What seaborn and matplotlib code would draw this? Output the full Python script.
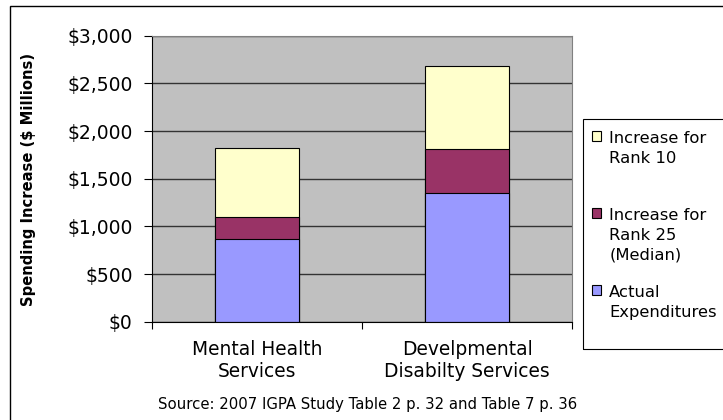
import matplotlib
matplotlib.use("Agg")
import matplotlib.pyplot as plt
from matplotlib.patches import Patch, Rectangle
from matplotlib.ticker import FixedLocator, FuncFormatter
import seaborn as sns
import pandas as pd

# values ($ millions)
categories = ["Mental Health\nServices", "Develpmental\nDisabilty Services"]
actual_expenditures = [865, 1345]
increase_rank25 = [235, 465]
increase_rank10 = [725, 870]

y_ticks = [0, 500, 1000, 1500, 2000, 2500, 3000]
legend_labels = ["Increase for\nRank 10\n", "Increase for\nRank 25\n(Median)", "Actual\nExpenditures"]
source_note = "Source: 2007 IGPA Study Table 2 p. 32 and Table 7 p. 36"

colors = {"rank10": "#FFFFCC", "rank25": "#993366", "actual": "#9999FF"}

sns.set_style("white")
plt.rcParams["font.family"] = ["DejaVu Sans"]
plt.rcParams["text.color"] = "black"
plt.rcParams["axes.labelcolor"] = "black"
plt.rcParams["xtick.color"] = "black"
plt.rcParams["ytick.color"] = "black"

df = pd.DataFrame({
    "category": categories,
    "actual": actual_expenditures,
    "rank25": increase_rank25,
    "rank10": increase_rank10,
})
df["with_rank25"] = df["actual"] + df["rank25"]
df["with_rank10"] = df["with_rank25"] + df["rank10"]

W, H = 723, 420
fig = plt.figure(figsize=(W / 100, H / 100), dpi=100)
ax = fig.add_axes([152 / W, 1 - 321.7 / H, 420 / W, 286 / H])

# stacked bars drawn back to front from the cumulative totals
for col, key in [("with_rank10", "rank10"), ("with_rank25", "rank25"), ("actual", "actual")]:
    sns.barplot(data=df, x="category", y=col, color=colors[key], saturation=1,
                width=0.4, edgecolor="black", linewidth=0.8, ax=ax)

ax.set_facecolor("#C0C0C0")
ax.set_axisbelow(True)
ax.set_ylim(0, 3000)
ax.set_xlim(-0.5, 1.5)
ax.yaxis.set_major_locator(FixedLocator(y_ticks))
ax.yaxis.set_major_formatter(FuncFormatter(lambda v, p: f"${v:,.0f}"))
ax.grid(axis="y", color="#333333", linewidth=1.0)
ax.grid(axis="x", visible=False)

ax.tick_params(axis="y", which="major", left=True, length=6, width=0.8,
               color="black", pad=8, labelsize=13.5)
ax.tick_params(axis="x", which="major", bottom=True, length=0, pad=13, labelsize=13.4)
ax.xaxis.set_minor_locator(FixedLocator([-0.5, 0.5, 1.5]))
ax.tick_params(axis="x", which="minor", bottom=True, length=5, width=0.8, color="black")

for side in ["left", "bottom"]:
    ax.spines[side].set_color("black")
    ax.spines[side].set_linewidth(0.8)
for side in ["top", "right"]:
    ax.spines[side].set_color("#808080")
    ax.spines[side].set_linewidth(0.8)

ax.set_xlabel("")
ax.set_ylabel("Spending Increase ($ Millions)", fontsize=10.6, fontweight="bold", labelpad=0)
ax.yaxis.set_label_coords(36.5 / W, 1 - 179 / H, transform=fig.transFigure)

# legend
handles = [Patch(facecolor=colors[k], edgecolor="black", linewidth=0.8)
           for k in ["rank10", "rank25", "actual"]]
leg = fig.legend(handles, legend_labels, loc="upper left",
                 bbox_to_anchor=(592 / W, 1 - 131 / H), frameon=False,
                 fontsize=11.8, borderpad=0, borderaxespad=0,
                 handlelength=0.55, handleheight=0.55, handletextpad=0.5,
                 labelspacing=1.4)
for t in leg.get_texts():
    t.set_linespacing(1.38)
for column in leg._legend_handle_box.get_children():
    for entry in column.get_children():
        entry.align = "top"
fig.patches.append(Rectangle((583 / W, 1 - 349.3 / H), 0.3, 230 / H,
                             transform=fig.transFigure, facecolor="none",
                             edgecolor="black", linewidth=0.8))

# outer chart border
fig.patches.append(Rectangle((9.5 / W, -0.2), 1.2, 1.2 - 6 / H,
                             transform=fig.transFigure, facecolor="none",
                             edgecolor="black", linewidth=1.0))

fig.text(368 / W, 1 - 404 / H, source_note, ha="center", va="center", fontsize=10.7)

fig.savefig("out.png", dpi=100)
